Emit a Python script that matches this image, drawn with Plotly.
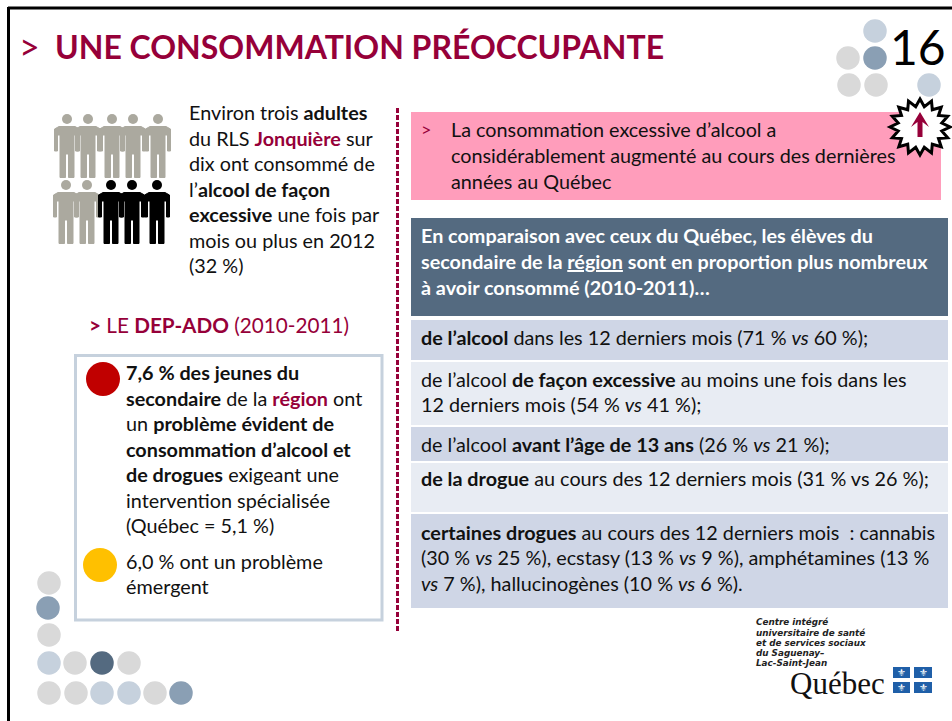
import plotly.graph_objects as go
import math

FONT = "Lato, Carlito, sans-serif"
MAROON = "#960039"
GREY = "#D9D9D9"; PALE = "#C6D1DD"; MID = "#8A9FB4"; DARK = "#546A80"

title_text = "UNE CONSOMMATION PRÉOCCUPANTE"
page_number = "16"
intro_lines = ["Environ trois <b>adultes</b>",
               f"du RLS <b><span style='color:{MAROON}'>Jonquière</span></b> sur",
               "dix ont consommé de", "l’<b>alcool de façon</b>",
               "<b>excessive</b> une fois par", "mois ou plus en 2012", "(32 %)"]
intro_y = [112, 138, 163, 189, 214, 240, 265]
depado_text = f"<span style='color:{MAROON}'><b>&gt;</b> LE <b>DEP-ADO</b> (2010-2011)</span>"
box_lines = ["<b>7,6 % des jeunes du</b>",
             f"<b>secondaire</b> de la <b><span style='color:{MAROON}'>région</span></b> ont",
             "un <b>problème évident de</b>", "<b>consommation d’alcool et</b>",
             "<b>de drogues</b> exigeant une", "intervention spécialisée",
             "(Québec = 5,1 %)", "6,0 % ont un problème", "émergent"]
box_y = [372, 398, 423, 449, 474, 500, 525, 561, 586]
pink_lines = ["La consommation excessive d’alcool a",
              "considérablement augmenté au cours des dernières",
              "années au Québec"]
pink_y = [129, 155, 181]
head_lines = ["En comparaison avec ceux du Québec, les élèves du",
              "secondaire de la <u>région</u> sont en proportion plus nombreux",
              "à avoir consommé (2010-2011)…"]
head_y = [235, 261, 287]
right_lines = ["<b>de l’alcool</b> dans les 12 derniers mois (71 % <i>vs</i> 60 %);",
               "de l’alcool <b>de façon excessive</b> au moins une fois dans les",
               "12 derniers mois (54 % <i>vs</i> 41 %);",
               "de l’alcool <b>avant l’âge de 13 ans</b> (26 % <i>vs</i> 21 %);",
               "<b>de la drogue</b> au cours des 12 derniers mois (31 % vs 26 %);",
               "<b>certaines drogues</b> au cours des 12 derniers mois  : cannabis",
               "(30 % <i>vs</i> 25 %), ecstasy (13 % <i>vs</i> 9 %), amphétamines (13 %",
               "<i>vs</i> 7 %), hallucinogènes (10 % <i>vs</i> 6 %)."]
right_y = [337, 379, 404, 444, 478, 532, 557, 583]
logo_lines = ["Centre intégré", "universitaire de santé", "et de services sociaux",
              "du Saguenay–", "Lac-Saint-Jean"]
logo_y = [622, 632.5, 643, 653, 663]

dots_x = [875, 848, 875, 849, 876, 929, 49, 48, 49, 49, 75, 102, 129, 49, 76, 102, 129, 155, 181]
dots_y = [31, 58, 58, 85, 85, 85, 583, 608, 635, 663, 663, 663, 663, 693, 693, 693, 693, 693, 693]
dots_c = [PALE, GREY, MID, GREY, GREY, PALE, GREY, MID, GREY, PALE, GREY, DARK, GREY,
          GREY, GREY, PALE, PALE, GREY, MID]
bullets_x = [103, 100]
bullets_y = [379, 565]
bullets_c = ["#C00000", "#FFC000"]
top_people_x = [67, 88, 112, 133, 158]
bottom_people_x = [66, 87, 111, 132, 157]
bottom_people_c = ["#ABA99F", "#ABA99F", "#000000", "#000000", "#000000"]
band_rows = [(320, 360, "#CFD6E6"), (362, 425, "#E8ECF3"), (427, 461, "#CFD6E6"),
             (463, 512, "#E8ECF3"), (514, 608, "#CFD6E6")]

fig = go.Figure()
fig.add_trace(go.Scatter(x=dots_x, y=dots_y, mode="markers", hoverinfo="skip",
                         marker=dict(size=23.5, color=dots_c, line_width=0)))
fig.add_trace(go.Scatter(x=bullets_x, y=bullets_y, mode="markers", hoverinfo="skip",
                         marker=dict(size=34, color=bullets_c, line_width=0)))

shapes = []
def rect(x0, y0, x1, y1, fill, line=None, w=0):
    shapes.append(dict(type="rect", x0=x0, y0=y0, x1=x1, y1=y1, fillcolor=fill, layer="below",
                       line=dict(color=line or fill, width=w)))
def path(d, fill, line=None, w=0):
    shapes.append(dict(type="path", path=d, fillcolor=fill, layer="below",
                       line=dict(color=line or fill, width=w)))

# frame
shapes.append(dict(type="line", x0=8, y0=8, x1=952, y1=8, line=dict(color="#000", width=3), layer="below"))
shapes.append(dict(type="line", x0=8.5, y0=7, x1=8.5, y1=721, line=dict(color="#000", width=3), layer="below"))
shapes.append(dict(type="line", x0=397.5, y0=108, x1=397.5, y1=632, layer="below",
                   line=dict(color=MAROON, width=3, dash="5px,2px")))
# panels
rect(411, 112, 941, 200, "#FF9DBB")
rect(411, 218, 948, 316, DARK)
for y0, y1, c in band_rows:
    rect(411, y0, 948, y1, c)
rect(75.5, 355.5, 382, 620, "#FFFFFF", PALE, 3)

def person(cx, hy, c):
    pts = [(-8, 7.5), (8, 7.5), (12.5, 10), (12.5, 32), (9.5, 32), (9.5, 16), (7, 16), (7, 58.5), (1.5, 58.5), (1.5, 35),
           (-1.5, 35), (-1.5, 58.5), (-7, 58.5), (-7, 16), (-9.5, 16), (-9.5, 32), (-12.5, 32), (-12.5, 10)]
    d = "M" + " L".join(f"{cx+a},{hy+b}" for a, b in pts) + " Z"
    path(d, c, c, 1)
    shapes.append(dict(type="circle", x0=cx-5, x1=cx+5, y0=hy-5, y1=hy+5, fillcolor=c,
                       line_width=0, layer="below"))
for x in top_people_x:
    person(x, 119, "#ABA99F")
for x, c in zip(bottom_people_x, bottom_people_c):
    person(x, 185, c)

# burst
cx, cy, n = 920, 127, 16
pts = []
for i in range(2 * n):
    a = math.pi * i / n - math.pi / 2
    r = 1.0 if i % 2 == 0 else 0.74
    pts.append((cx + 30 * r * math.cos(a), cy + 28 * r * math.sin(a)))
path("M" + " L".join(f"{a:.1f},{b:.1f}" for a, b in pts) + " Z", "#FFFFFF", "#000000", 3)
arrow = [(0, -15), (9, 0), (2.5, -5), (2.5, 10), (-2.5, 10), (-2.5, -5), (-9, 0)]
path("M" + " L".join(f"{cx+a},{cy+b}" for a, b in arrow) + " Z", MAROON)

# Quebec flag squares
for x0, x1 in [(893, 910), (914, 932)]:
    for y0, y1 in [(667, 678), (682, 693)]:
        rect(x0, y0, x1, y1, "#1F5FA8")

ann = []
def text(x, y, s, size=19.8, color="#111111", anchor="left", family=FONT):
    ann.append(dict(x=x, y=y, text=s, showarrow=False, xanchor=anchor, yanchor="middle", align=anchor,
                    font=dict(size=size, color=color, family=family), xref="x", yref="y",
                    borderpad=0, borderwidth=0))

text(19, 46, "&gt;", 36, MAROON)
text(55, 46, f"<b>{title_text}</b>", 32, MAROON)
text(890, 46, page_number, 48, "#000000")
for s, y in zip(intro_lines, intro_y):
    text(189, y, s)
text(89, 325, depado_text, 20.7)
for s, y in zip(box_lines, box_y):
    text(126, y, s)
text(421, 129, "&gt;", 18, MAROON)
for s, y in zip(pink_lines, pink_y):
    text(451, y, s)
for s, y in zip(head_lines, head_y):
    text(421, y, f"<b>{s}</b>", 19.8, "#FFFFFF")
for s, y in zip(right_lines, right_y):
    text(421, y, s)
for s, y in zip(logo_lines, logo_y):
    text(756, y, f"<b><i>{s}</i></b>", 8.8, "#222222", family="DejaVu Sans")
text(790, 683, "Québec", 31, "#111111", family="Liberation Serif")
for x in (901.5, 923):
    for y in (672.5, 687.5):
        text(x, y, "⚜", 10, "#FFFFFF", "center", "DejaVu Sans")

fig.update_layout(width=952, height=721, autosize=False, margin=dict(l=0, r=0, t=0, b=0),
                  paper_bgcolor="#FFFFFF", plot_bgcolor="#FFFFFF", showlegend=False,
                  shapes=shapes, annotations=ann,
                  xaxis=dict(range=[0, 952], visible=False, fixedrange=True),
                  yaxis=dict(range=[721, 0], visible=False, fixedrange=True))
fig.write_html("out.html", config={"displayModeBar": False},
               post_script="document.body.style.margin='0';document.body.style.overflow='hidden';")
